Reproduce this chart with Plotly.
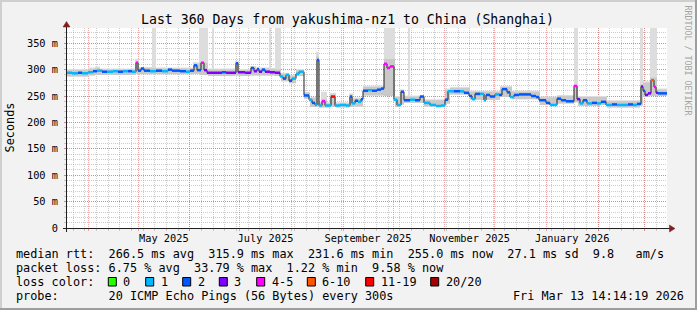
import pandas as pd
import plotly.graph_objects as go

# ---------------- data ----------------
START = pd.Timestamp("2025-03-19 09:36")
SPAN_DAYS = 360
END = START + pd.Timedelta(days=SPAN_DAYS)

# start of each median step (days since START)
seg_day = [0, 3, 6.6, 9, 12.6, 15.6, 18, 21, 24, 27.6,
           30.6, 33.6, 36.6, 39, 41.4, 42.6, 44.4, 46.2, 49.8, 53.4,
           57, 60.6, 63, 67.8, 71.4, 73.8, 76.2, 78, 80.4, 82.2,
           84, 88.8, 93, 95.4, 101.4, 102.6, 106.8, 110.4, 112.2, 114,
           115.2, 117, 118.8, 121.8, 124.8, 127.8, 129.6, 131.4, 133.2, 135,
           137.4, 139.2, 142.2, 145.2, 147, 148.8, 150, 151.2, 153, 154.8,
           158.4, 160.8, 163.8, 167.4, 169.8, 171, 172.8, 174.6, 176.4, 177.6,
           180.6, 183, 186, 188.4, 190.2, 192, 193.8, 196.2, 198, 200.4,
           202.2, 205.8, 208.8, 211.8, 214.2, 217.8, 221.4, 224.4, 226.8, 228.6,
           232.2, 235.8, 238.2, 241.2, 243, 244.8, 247.8, 250.2, 251.4, 253.8,
           256.8, 259.2, 261, 264, 265.8, 268.2, 271.2, 274.8, 278.4, 281.4,
           283.2, 287.4, 289.8, 294, 296.4, 299.4, 304.2, 306, 307.8, 309.6,
           312, 315, 318, 320.4, 323.4, 327, 330, 333.6, 336.6, 339.6,
           342, 344.4, 345.6, 346.8, 348.6, 350.4, 352.2, 353.4, 354.6]

# median rtt (ms)
median_ms = [294, 293, 294, 293, 295, 297, 298, 296, 296, 297,
             296, 297, 297, 296, 313, 298, 302, 298, 297, 298,
             297, 300, 298, 297, 296, 298, 308, 299, 313, 299,
             294, 294, 295, 294, 312, 295, 294, 303, 297, 301,
             296, 300, 296, 295, 294, 287, 283, 290, 279, 283,
             292, 296, 251, 243, 237, 233, 318, 232, 240, 232,
             249, 232, 233, 232, 249, 236, 241, 239, 244, 260,
             261, 260, 262, 264, 311, 303, 306, 243, 233, 258,
             242, 243, 242, 249, 237, 233, 231, 232, 243, 259,
             259, 259, 256, 250, 244, 254, 254, 242, 252, 249,
             253, 252, 263, 257, 248, 252, 253, 253, 250, 248,
             242, 237, 233, 245, 242, 240, 269, 244, 236, 242,
             236, 237, 236, 239, 233, 234, 233, 233, 234, 233,
             235, 268, 260, 252, 255, 280, 267, 256, 255]

# loss class index of each step (see loss_labels)
loss_cls = [1, 1, 2, 1, 1, 2, 1, 2, 1, 1,
            2, 1, 2, 1, 4, 2, 2, 2, 1, 2,
            1, 2, 2, 2, 1, 2, 2, 2, 4, 3,
            3, 3, 2, 3, 2, 3, 3, 2, 3, 2,
            3, 2, 3, 3, 3, 1, 2, 1, 2, 1,
            1, 1, 2, 1, 2, 1, 2, 1, 4, 1,
            6, 1, 1, 1, 2, 1, 2, 1, 2, 2,
            1, 2, 2, 2, 4, 4, 4, 1, 1, 2,
            2, 1, 2, 2, 1, 1, 1, 1, 2, 1,
            2, 1, 2, 2, 1, 2, 1, 1, 2, 2,
            1, 2, 2, 2, 1, 2, 2, 2, 2, 2,
            2, 2, 1, 2, 2, 2, 4, 3, 1, 2,
            1, 2, 1, 2, 1, 2, 1, 1, 2, 1,
            2, 3, 2, 3, 3, 5, 4, 3, 2]

# smoke (ping spread) steps
smoke_day = [0, 12.6, 16.8, 19.8, 40.8, 43.2, 51, 53.4, 75.6, 79.2,
             84.6, 87, 88.2, 100.8, 103.2, 109.8, 113.4, 121.2, 122.4, 124.8,
             128.4, 133.2, 137.4, 142.2, 145.8, 149.4, 151.2, 152.4, 156, 157.8,
             161.4, 169.2, 171.6, 177.6, 190.2, 196.8, 199.8, 202.2, 204.6, 205.8,
             214.2, 226.8, 229.8, 241.8, 259.8, 267, 283.8, 294, 304.2, 306.6,
             319.8, 324, 343.8, 345.6, 349.8, 354]
smoke_lo = [287, 289, 290, 290, 292, 291, 291, 291, 292, 290,
            288, 288, 288, 289, 288, 289, 289, 289, 289, 288,
            278, 274, 288, 245, 229, 230, 228, 228, 228, 229,
            228, 229, 230, 251, 250, 229, 234, 237, 237, 237,
            230, 236, 253, 243, 248, 244, 233, 236, 238, 231,
            233, 228, 232, 248, 250, 250]
smoke_hi = [299, 301, 303, 300, 316, 303, 303, 302, 311, 312,
            300, 300, 300, 314, 299, 305, 302, 301, 301, 300,
            292, 288, 299, 256, 246, 325, 237, 245, 236, 253,
            236, 252, 245, 267, 320, 248, 261, 249, 249, 249,
            242, 262, 265, 258, 267, 258, 247, 250, 271, 248,
            248, 240, 272, 275, 285, 262]
smoke_max = [301, 304, 306, 302, 320, 305, 380, 304, 314, 380,
             302, 380, 302, 316, 301, 307, 304, 380, 303, 380,
             294, 290, 301, 258, 248, 334, 239, 258, 238, 256,
             238, 255, 247, 270, 380, 250, 263, 251, 380, 251,
             244, 264, 267, 260, 269, 260, 249, 252, 380, 250,
             250, 242, 380, 278, 380, 264]

loss_labels = ["0", "1", "2", "3", "4-5", "6-10", "11-19", "20/20"]
loss_colors = ["#26ff00", "#00b8ff", "#0059ff", "#7e00ff",
               "#ff00ff", "#ff5500", "#ff0000", "#a00000"]

y_tick_vals = [0, 50, 100, 150, 200, 250, 300, 350]
y_tick_text = ["0", "50 m", "100 m", "150 m", "200 m", "250 m", "300 m", "350 m"]
x_label_months = ["2025-05", "2025-07", "2025-09", "2025-11", "2026-01"]
x_label_text = ["May 2025", "July 2025", "September 2025", "November 2025", "January 2026"]

title_text = "Last 360 Days from yakushima-nz1 to China (Shanghai)"
stat_rtt = "median rtt:  266.5 ms avg  315.9 ms max  231.6 ms min  255.0 ms now  27.1 ms sd  9.8   am/s"
stat_loss = "packet loss: 6.75 % avg  33.79 % max  1.22 % min  9.58 % now"
probe_text = "probe:       20 ICMP Echo Pings (56 Bytes) every 300s"
stamp_text = "Fri Mar 13 14:14:19 2026"

# ---------------- styling ----------------
MONO = "DejaVu Sans Mono"
F_LEG, F_AX, F_TITLE = 11.83, 10.3, 13.2
BACK = "#f2f2f2"
GRID = "rgba(143,143,143,0.45)"
MGRID = "rgba(222,79,79,0.5)"
AXIS = "#1f1f1f"
ARROW = "#801f1f"

PX_L, PX_R, PX_T, PX_B = 67, 667, 28, 228


def px_x(p):
    return (p - PX_L) / (PX_R - PX_L)


def px_y(p):
    return (PX_B - p) / (PX_B - PX_T)


def to_dates(days):
    return [START + pd.Timedelta(days=d) for d in days]


def steps(days, vals):
    return to_dates(days) + [END], list(vals) + [vals[-1]]


fig = go.Figure()

# smoke: light outer band then darker inner band
for top, col in ((smoke_max, "#dddddd"), (smoke_hi, "#c9c9c9")):
    xs, ylo = steps(smoke_day, smoke_lo)
    _, yhi = steps(smoke_day, top)
    fig.add_trace(go.Scatter(x=xs, y=ylo, mode="lines", line=dict(width=0, shape="hv"),
                             hoverinfo="skip", showlegend=False))
    fig.add_trace(go.Scatter(x=xs, y=yhi, mode="lines", line=dict(width=0, shape="hv"),
                             fill="tonexty", fillcolor=col, hoverinfo="skip", showlegend=False))

# thin dark median line
xs, ys = steps(seg_day, median_ms)
fig.add_trace(go.Scatter(x=xs, y=ys, mode="lines", line=dict(color="#202020", width=1, shape="hv"),
                         hoverinfo="skip", showlegend=False))

# colored median segments by loss class
seg_dates = to_dates(seg_day) + [END]
for c, col in enumerate(loss_colors):
    sx, sy = [], []
    for i, cl in enumerate(loss_cls):
        if cl == c:
            sx += [seg_dates[i], seg_dates[i + 1], None]
            sy += [median_ms[i], median_ms[i], None]
    if sx:
        fig.add_trace(go.Scatter(x=sx, y=sy, mode="lines", line=dict(color=col, width=2.5),
                                 hoverinfo="skip", showlegend=False))

# dummy trace so the month-grid axis exists
fig.add_trace(go.Scatter(x=[START, END], y=[None, None], xaxis="x2", mode="lines",
                         hoverinfo="skip", showlegend=False))

label_pos = []
for m in x_label_months:
    s = pd.Timestamp(m + "-01")
    e = s + pd.offsets.MonthBegin(1)
    label_pos.append(s + (e - s) / 2)

annotations = []


def label(text, x, y, size=F_LEG, anchor="left", color="#000000", angle=0):
    annotations.append(dict(text=text.replace(" ", "\u00a0"), xref="paper", yref="paper",
                            x=px_x(x), y=px_y(y), xanchor=anchor, yanchor="middle",
                            showarrow=False, borderpad=0, borderwidth=0, textangle=angle,
                            font=dict(family=MONO, size=size, color=color)))


label(title_text, 347, 19.4, size=F_TITLE, anchor="center")
label("Seconds", 10, 127.4, anchor="center", angle=-90)
label("RRDTOOL / TOBI OETIKER", 687.5, 60, size=8.3, anchor="center", color="#a4a4a4", angle=90)
label(stat_rtt, 16, 254.2)
label(stat_loss, 16, 268.1)
label("loss color:", 16, 282)
label(probe_text, 16, 295.9)
label(stamp_text, 513.3, 295.9)

shapes = []
box_x = [108.3, 145.7, 182.7, 219.3, 256.7, 307.3, 365.7, 430.7]
for bx, lab, col in zip(box_x, loss_labels, loss_colors):
    shapes.append(dict(type="rect", xref="paper", yref="paper", x0=px_x(bx), x1=px_x(bx + 8),
                       y0=px_y(286), y1=px_y(277.5), fillcolor=col, line=dict(color="#000000", width=1)))
    label(lab, bx + 15, 282)

# frame shading
shapes += [
    dict(type="rect", xref="paper", yref="paper", x0=px_x(0), x1=px_x(697), y0=px_y(0), y1=px_y(2),
         fillcolor="#cfcfcf", line=dict(width=0), layer="below"),
    dict(type="rect", xref="paper", yref="paper", x0=px_x(0), x1=px_x(2), y0=px_y(0), y1=px_y(310),
         fillcolor="#cfcfcf", line=dict(width=0), layer="below"),
    dict(type="rect", xref="paper", yref="paper", x0=px_x(695), x1=px_x(697), y0=px_y(0), y1=px_y(310),
         fillcolor="#9e9e9e", line=dict(width=0), layer="below"),
    dict(type="rect", xref="paper", yref="paper", x0=px_x(0), x1=px_x(697), y0=px_y(308), y1=px_y(310),
         fillcolor="#9e9e9e", line=dict(width=0), layer="below"),
]
# axes with arrows
shapes += [
    dict(type="line", xref="paper", yref="paper", x0=px_x(63), x1=px_x(671), y0=px_y(228.5), y1=px_y(228.5),
         line=dict(color=AXIS, width=1)),
    dict(type="line", xref="paper", yref="paper", x0=px_x(66.5), x1=px_x(66.5), y0=px_y(232), y1=px_y(25),
         line=dict(color=AXIS, width=1)),
    dict(type="path", xref="paper", yref="paper",
         path="M {} {} L {} {} L {} {} Z".format(px_x(669.5), px_y(225), px_x(669.5), px_y(232), px_x(675), px_y(228.5)),
         fillcolor=ARROW, line=dict(color=ARROW, width=0.5)),
    dict(type="path", xref="paper", yref="paper",
         path="M {} {} L {} {} L {} {} Z".format(px_x(63), px_y(27), px_x(70), px_y(27), px_x(66.5), px_y(21.5)),
         fillcolor=ARROW, line=dict(color=ARROW, width=0.5)),
]

fig.update_layout(
    width=697, height=310,
    margin=dict(l=PX_L, r=697 - PX_R, t=PX_T, b=310 - PX_B, pad=0),
    paper_bgcolor=BACK, plot_bgcolor="#ffffff",
    showlegend=False, hovermode=False,
    font=dict(family=MONO, size=F_LEG, color="#000000"),
    xaxis=dict(type="date", range=[START, END], tickmode="array", tickvals=label_pos,
               ticktext=x_label_text, ticks="", showgrid=False, zeroline=False, showline=False,
               tickfont=dict(family=MONO, size=F_AX, color="#000000"), ticklabelstandoff=3,
               minor=dict(tick0="2025-03-23", dtick=7 * 86400000, showgrid=True, gridcolor=GRID,
                          griddash="1px,1px", gridwidth=1, ticks="outside", ticklen=2, tickcolor=GRID)),
    xaxis2=dict(type="date", overlaying="x", anchor="y", side="bottom", range=[START, END],
                tickmode="linear", tick0="2025-01-01", dtick="M1", showgrid=True, gridcolor=MGRID,
                griddash="1px,1px", gridwidth=1, showticklabels=False, ticks="outside", ticklen=2,
                tickcolor=MGRID, zeroline=False, showline=False),
    yaxis=dict(range=[0, 378.8], tickmode="array", tickvals=y_tick_vals, ticktext=y_tick_text,
               showgrid=True, gridcolor=MGRID, griddash="1px,1px", gridwidth=1, ticks="outside",
               ticklen=2, tickcolor=MGRID, zeroline=False, showline=False, ticklabelstandoff=4,
               tickfont=dict(family=MONO, size=F_AX, color="#000000"),
               minor=dict(tick0=0, dtick=10, showgrid=True, gridcolor=GRID, griddash="1px,1px",
                          gridwidth=1, ticks="outside", ticklen=2, tickcolor=GRID)),
    annotations=annotations,
    shapes=shapes,
)

fig.write_html("out.html")
